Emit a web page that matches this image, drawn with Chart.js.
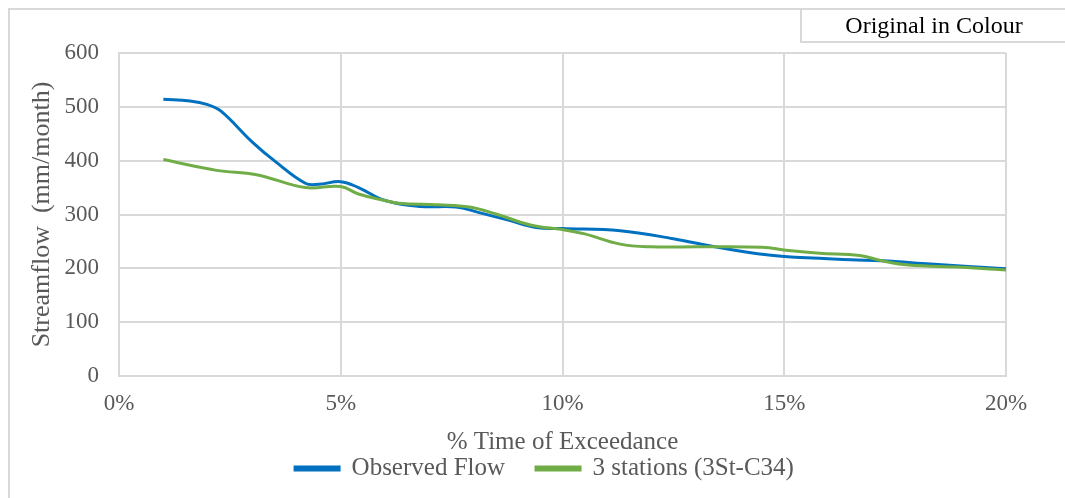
<!DOCTYPE html>
<html>
<head>
<meta charset="utf-8">
<script src="https://cdn.jsdelivr.net/npm/chart.js@4/dist/chart.umd.min.js"></script>
<style>
  html, body { margin: 0; padding: 0; background: #ffffff; }
  #wrap { width: 1065px; height: 498px; position: relative; }
</style>
</head>
<body>
<div id="wrap"><canvas id="flow"></canvas></div>
<script>
// Flow duration curves: % time of exceedance vs streamflow (mm/month)
const observedExceedance = [1.0, 1.6, 2.0, 2.3, 3.0, 3.5, 4.2, 4.5, 5.0, 5.4, 6.0, 6.8, 7.6, 8.1, 8.8, 9.4, 10.0, 11.3, 12.5, 13.5, 14.4, 15.0, 16.5, 17.2, 18.3, 20.0];
const observedFlow       = [514, 511, 504, 492, 435, 400, 358, 356, 361, 350, 326, 315, 314, 304, 289, 276, 274, 270, 255, 239, 227, 222, 216, 214, 208, 199];

const stationsExceedance = [1.0, 2.2, 3.1, 4.2, 5.0, 5.4, 6.0, 6.3, 7.2, 7.9, 8.5, 9.3, 10.0, 10.5, 11.3, 12.0, 13.1, 14.5, 15.1, 15.8, 16.7, 17.2, 17.8, 19.0, 20.0];
const stationsFlow       = [402, 382, 374, 350, 352, 338, 326, 321, 318, 314, 301, 280, 272, 264, 245, 240, 240, 239, 233, 228, 224, 214, 206, 202, 197];

const seriesNames = ['Observed Flow', '3 stations (3St-C34)'];
const xTicks = [0, 5, 10, 15, 20];
const yTicks = [0, 100, 200, 300, 400, 500, 600];

const toPoints = (xs, ys) => xs.map((x, i) => ({ x: x, y: ys[i] }));

const TEXT = '#595959';
const GRID = '#d9d9d9';
const SERIF = '"Liberation Serif", "Times New Roman", serif';

// Frame lines and the "Original in Colour" tag
const framePlugin = {
  id: 'frame',
  afterLayout(chart) {
    // centre the legend row under the whole frame rather than the plot
    if (chart.legend) {
      chart.legend.left += 30;
      chart.legend.right += 30;
      chart.legend.top += 1;
      chart.legend.bottom += 1;
    }
  },
  afterDraw(chart) {
    const ctx = chart.ctx;
    ctx.save();
    ctx.strokeStyle = GRID;
    ctx.lineWidth = 2;
    ctx.beginPath();
    ctx.moveTo(9, 498);
    ctx.lineTo(9, 9);
    ctx.lineTo(1065, 9);
    ctx.stroke();
    ctx.beginPath();
    ctx.moveTo(801, 9);
    ctx.lineTo(801, 42);
    ctx.lineTo(1065, 42);
    ctx.stroke();
    ctx.fillStyle = '#000000';
    ctx.font = '24px ' + SERIF;
    ctx.textAlign = 'center';
    ctx.textBaseline = 'middle';
    ctx.fillText('Original in Colour', 934, 27);
    ctx.restore();
  }
};

new Chart(document.getElementById('flow'), {
  type: 'scatter',
  data: {
    datasets: [
      {
        label: seriesNames[0],
        data: toPoints(observedExceedance, observedFlow),
        borderColor: '#0070C0',
        backgroundColor: '#0070C0',
        borderWidth: 3,
        showLine: true,
        pointRadius: 0,
        pointHoverRadius: 0,
        tension: 0.4,
        order: 1
      },
      {
        label: seriesNames[1],
        data: toPoints(stationsExceedance, stationsFlow),
        borderColor: '#70AD47',
        backgroundColor: '#70AD47',
        borderWidth: 3,
        showLine: true,
        pointRadius: 0,
        pointHoverRadius: 0,
        tension: 0.4,
        order: 0
      }
    ]
  },
  options: {
    responsive: true,
    maintainAspectRatio: false,
    animation: false,
    events: [],
    layout: { padding: { left: 23, right: 59, top: 53, bottom: 8 } },
    plugins: {
      tooltip: { enabled: false },
      legend: {
        position: 'bottom',
        labels: {
          color: TEXT,
          font: { family: SERIF, size: 25 },
          boxWidth: 44,
          boxHeight: 3,
          padding: 31,
          sort: (a, b) => a.datasetIndex - b.datasetIndex
        }
      }
    },
    scales: {
      x: {
        type: 'linear',
        min: 0,
        max: 20,
        afterBuildTicks: (scale) => { scale.ticks = xTicks.map(v => ({ value: v })); },
        afterFit: (scale) => { scale.height = 48; },
        ticks: {
          color: TEXT,
          font: { family: SERIF, size: 23 },
          padding: 14,
          maxRotation: 0,
          callback: (v) => v + '%'
        },
        grid: { color: GRID, lineWidth: 2, drawTicks: false },
        border: { color: GRID, width: 2 },
        title: {
          display: true,
          text: '% Time of Exceedance',
          color: TEXT,
          font: { family: SERIF, size: 25 },
          padding: { top: 0, bottom: -33 }
        }
      },
      y: {
        min: 0,
        max: 600,
        afterBuildTicks: (scale) => { scale.ticks = yTicks.map(v => ({ value: v })); },
        afterFit: (scale) => { scale.width = 96; },
        ticks: {
          color: TEXT,
          font: { family: SERIF, size: 23 },
          padding: 20
        },
        grid: { color: GRID, lineWidth: 2, drawTicks: false },
        border: { color: GRID, width: 2 },
        title: {
          display: true,
          text: 'Streamflow  (mm/month)',
          color: TEXT,
          font: { family: SERIF, size: 26 },
          padding: { top: 4, bottom: 4 }
        }
      }
    }
  },
  plugins: [framePlugin]
});
</script>
</body>
</html>
